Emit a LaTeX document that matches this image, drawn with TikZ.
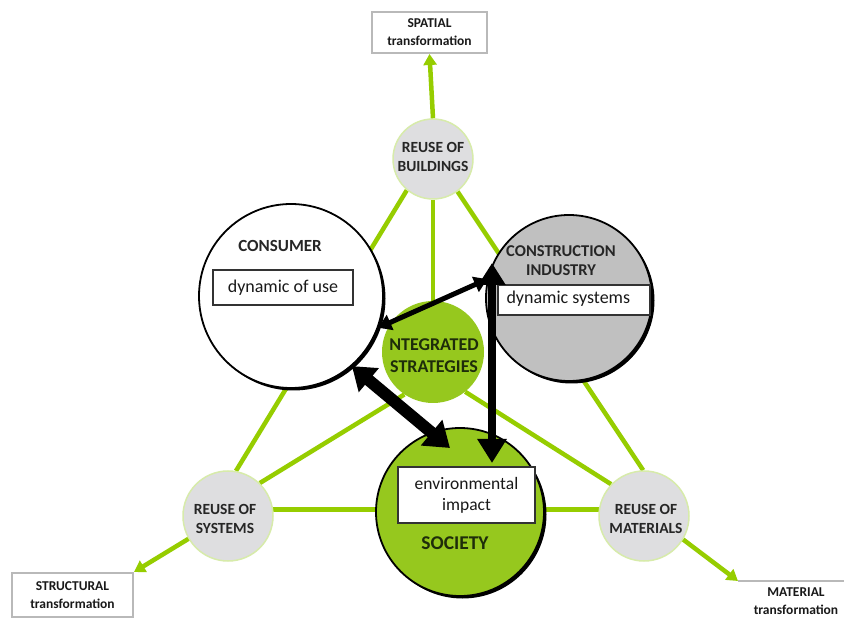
\documentclass[tikz,border=0pt]{standalone}
\usepackage{fontspec}
\setmainfont{Carlito}
\usetikzlibrary{arrows.meta,shadows}
\pgfdeclarelayer{paper}
\pgfdeclarelayer{bg}
\pgfsetlayers{paper,bg,main}
\definecolor{lgreen}{RGB}{150,205,0}
\definecolor{fgreen}{RGB}{150,200,30}
\definecolor{cgray}{RGB}{222,222,224}
\definecolor{igray}{RGB}{192,192,192}
\definecolor{dgreen}{RGB}{30,45,10}
\definecolor{bgray}{RGB}{185,185,185}
\definecolor{rimgreen}{RGB}{215,235,170}
\tikzset{
  gline/.style={lgreen, line width=4.5pt},
  garrow/.style={gline, -{Triangle[length=11pt,width=13pt]}},
  smallc/.style={circle, fill=cgray, draw=rimgreen, line width=1.5pt, inner sep=0pt},
  bigc/.style={circle, inner sep=0pt, draw=black, line width=1.8pt,
    drop shadow={shadow xshift=2.5pt, shadow yshift=-2.5pt, opacity=1, fill=black}},
  ctext/.style={align=center, font=\bfseries\fontsize{15.5}{19}\selectfont, text=black!85},
  htext/.style={align=center, font=\bfseries\fontsize{17}{19}\selectfont, text=black!85},
  gtext/.style={align=center, font=\bfseries\fontsize{18}{22}\selectfont, text=dgreen},
  ltext/.style={font=\fontsize{18}{21}\selectfont, text=black!90},
  wbox/.style={draw=black!80, line width=1.5pt, fill=white, inner sep=0pt},
  tboxtext/.style={align=center, inner sep=0pt, font=\bfseries\fontsize{13.5}{18}\selectfont, text=black!90},
  tbox/.style={tboxtext, draw=bgray, line width=2pt, fill=white},
  barrowA/.style={line width=5pt, {Triangle[length=13pt,width=16pt]}-{Triangle[length=13pt,width=16pt]}},
  barrowB/.style={line width=12pt, {Triangle[length=22pt,width=30pt]}-{Triangle[length=24pt,width=32pt]}},
  barrowC/.style={line width=8pt, {Triangle[length=22pt,width=26pt]}-{Triangle[length=24pt,width=28pt]}},
}
\begin{document}
\begin{tikzpicture}[x=1pt,y=-1pt]
\clip (0,0) rectangle (844,620);
\begin{pgfonlayer}{paper}
\fill[white] (0,0) rectangle (844,620);
\end{pgfonlayer}

% boxes
\node[tbox, minimum width=115pt, minimum height=41pt] (topbox) at (429.5,32.5) {SPATIAL\\transformation};
\node[tbox, minimum width=121pt, minimum height=44pt] (blbox) at (72.5,595) {STRUCTURAL\\transformation};
\node[tboxtext, anchor=north west, minimum width=124pt, minimum height=40pt] (brbox) at (738,581) {};
\node[tboxtext] (brlbl) at (796,601) {MATERIAL\\transformation};
\draw[bgray, line width=2pt] (brbox.north west) -- (brbox.north east);

% circles
\node[smallc, minimum size=80pt] (bld) at (433,159) {};
\node[smallc, minimum size=90pt] (sys) at (228,516) {};
\node[smallc, minimum size=90pt] (mat) at (644,516) {};
\node[bigc, fill=white, minimum size=184pt] (cons) at (291,296) {};
\node[bigc, fill=igray, minimum size=166pt] (ind) at (569,298) {};
\node[circle, fill=fgreen, inner sep=0pt, minimum size=102pt] (int) at (433,352) {};
\node[bigc, fill=fgreen, minimum size=168pt] (soc) at (460,512) {};

% green lines behind
\begin{pgfonlayer}{bg}
\draw[gline] (bld.230) -- (sys.80);
\draw[gline] (bld.307) -- (mat.91);
\draw[gline] (bld.south) -- (int.north);
\draw[gline] (sys.46) -- (int.236);
\draw[gline] (mat.136) -- (int.309);
\draw[gline] (sys.8) -- (mat.172);
\end{pgfonlayer}

% green arrows
\draw[garrow] (bld.north) -- (topbox.south);
\draw[garrow] (sys.210) -- (blbox.north east);
\draw[garrow] (mat.-31) -- (brbox.north west);

% inner boxes and labels
\node[wbox, minimum width=140pt, minimum height=35pt] (usebox) at (283,287.5) {};
\node[ltext] (uselbl) at (usebox.center) {dynamic of use};
\node[htext] (conslbl) at (280,246) {CONSUMER};

\node[wbox, minimum width=152pt, minimum height=30pt] (band) at (574,300) {};
\node[ltext, anchor=west] (bandlbl) at (503,299) {dynamic systems};
\node[htext, align=center, font=\bfseries\fontsize{16.5}{19}\selectfont] (indlbl) at (561,261) {CONSTRUCTION\\INDUSTRY};

\node[gtext] (intlbl) at (434,356) {NTEGRATED\\STRATEGIES};

\node[wbox, minimum width=137pt, minimum height=56pt] (envbox) at (466.5,495) {};
\node[ltext, align=center, font=\fontsize{17.5}{21}\selectfont] (envlbl) at (envbox.center) {environmental\\impact};
\node[gtext, font=\bfseries\fontsize{19.5}{22}\selectfont] (soclbl) at (455,543) {SOCIETY};

\node[ctext] (bldlbl) at (433,157) {REUSE OF\\BUILDINGS};
\node[ctext] (syslbl) at (225,519) {REUSE OF\\SYSTEMS};
\node[ctext] (matlbl) at (646,519) {REUSE OF\\MATERIALS};

% black arrows
\coordinate (socA) at (450,448);
\coordinate (indA) at (492,263);
\coordinate (socB) at (492,463);
\draw[barrowA] (cons.340) -- (ind.167);
\draw[barrowB] (cons.311) -- (socA);
\draw[barrowC] (indA) -- (socB);
\end{tikzpicture}
\end{document}
